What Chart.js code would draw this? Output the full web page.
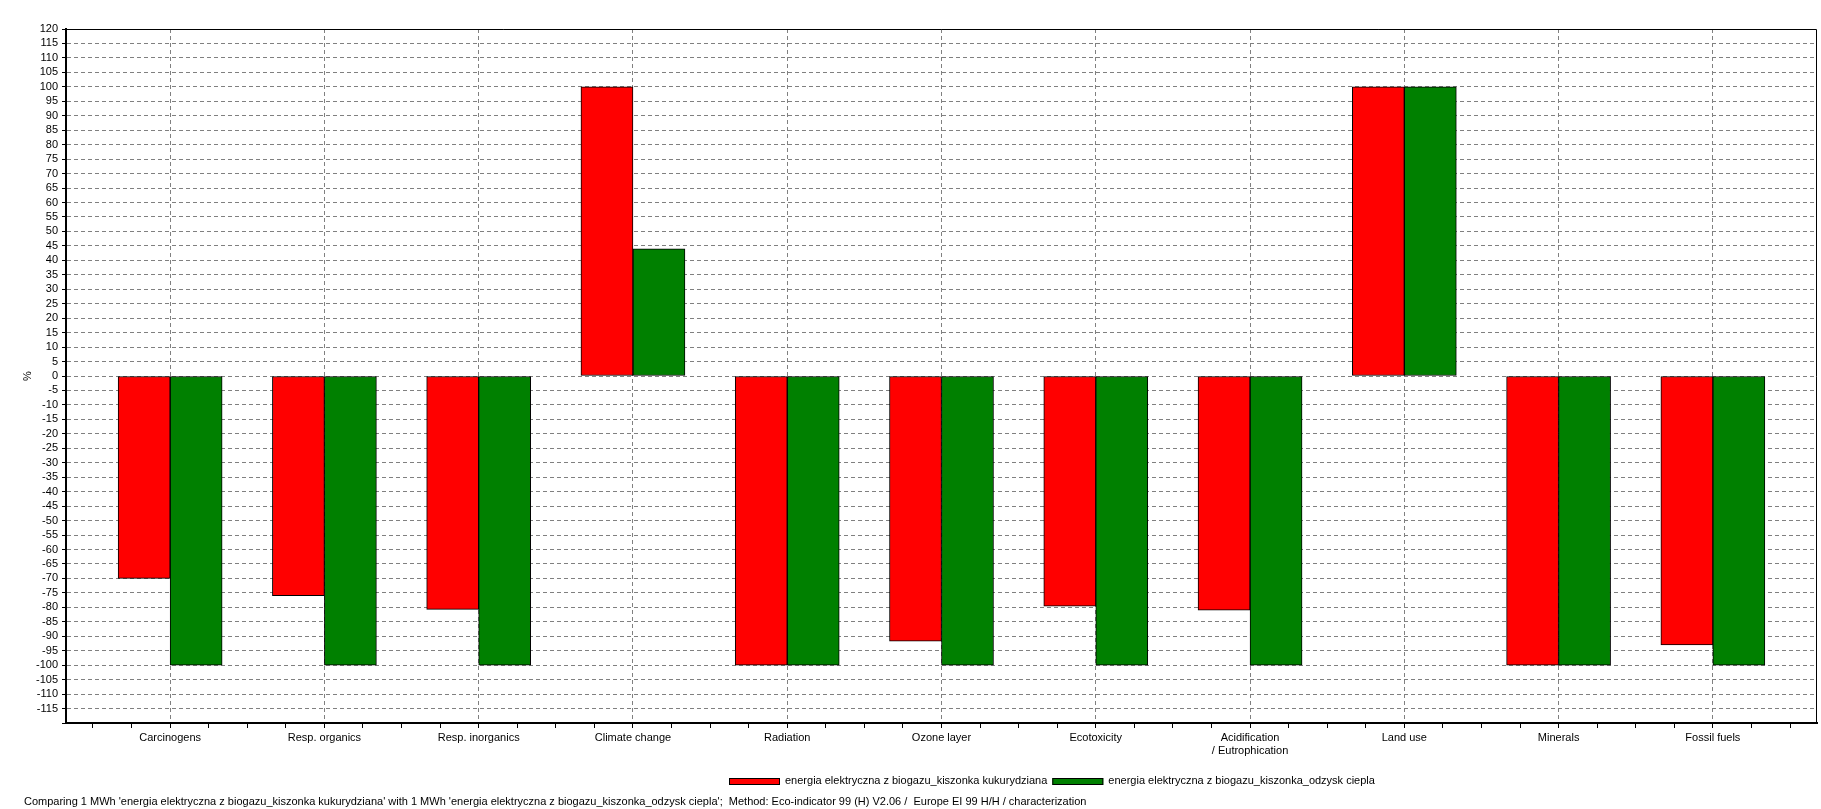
<!DOCTYPE html>
<html>
<head>
<meta charset="utf-8">
<title>Eco-indicator 99 - porównanie</title>
<script src="https://cdn.jsdelivr.net/npm/chart.js@4/dist/chart.umd.min.js"></script>
<style>
  html, body { margin: 0; padding: 0; background: #fff; }
  #wrap { width: 1821px; height: 809px; }
</style>
</head>
<body>
<div id="wrap"><canvas id="ecoChart" width="1821" height="809"></canvas></div>
<script>
// kategorie wpływu
const categories = [
  "Carcinogens", "Resp. organics", "Resp. inorganics", "Climate change",
  "Radiation", "Ozone layer", "Ecotoxicity", ["Acidification", "/ Eutrophication"],
  "Land use", "Minerals", "Fossil fuels"
];

// wartości w %
const kukurydziana = [-70, -76, -80.7, 100, -100, -91.7, -79.6, -81, 100, -100, -93];
const odzyskCiepla = [-100, -100, -100, 44, -100, -100, -100, -100, 100, -100, -100];

const seriesNames = [
  "energia elektryczna z biogazu_kiszonka kukurydziana",
  "energia elektryczna z biogazu_kiszonka_odzysk ciepla"
];

const footerText = "Comparing 1 MWh 'energia elektryczna z biogazu_kiszonka kukurydziana' with 1 MWh 'energia elektryczna z biogazu_kiszonka_odzysk ciepla';  Method: Eco-indicator 99 (H) V2.06 /  Europe EI 99 H/H / characterization";

const FONT = '"Liberation Sans", Arial, sans-serif';

// ramka, legenda i stopka
const extrasPlugin = {
  id: "extras",
  afterDraw(chart) {
    const ctx = chart.ctx;
    const a = chart.chartArea;
    ctx.save();
    ctx.strokeStyle = "#000";
    ctx.lineWidth = 1;
    ctx.setLineDash([]);
    ctx.beginPath();
    ctx.moveTo(a.left, a.top + 0.5);
    ctx.lineTo(a.right - 0.5, a.top + 0.5);
    ctx.lineTo(a.right - 0.5, a.bottom);
    ctx.stroke();

    ctx.font = "11px " + FONT;
    ctx.textBaseline = "middle";
    ctx.textAlign = "left";
    let x = 729;
    chart.data.datasets.forEach(function (ds) {
      ctx.fillStyle = ds.backgroundColor;
      ctx.fillRect(x, 778, 51, 7);
      ctx.strokeRect(x + 0.5, 778.5, 50, 6);
      x += 56;
      ctx.fillStyle = "#000";
      ctx.fillText(ds.label, x, 781);
      x += ctx.measureText(ds.label).width + 5;
    });

    ctx.fillStyle = "#000";
    ctx.fillText(footerText, 24, 802);
    ctx.restore();
  }
};

function initChart() {
  const ctx = document.getElementById("ecoChart").getContext("2d");

  const quarterTicks = [];
  for (let v = -0.5; v <= categories.length - 0.5 + 1e-9; v += 0.25) {
    quarterTicks.push(Math.round(v * 100) / 100);
  }

  new Chart(ctx, {
    type: "bar",
    data: {
      datasets: [
        {
          label: seriesNames[0],
          data: kukurydziana.map((v, i) => ({ x: i, y: v })),
          backgroundColor: "#ff0000",
          borderColor: "#000000",
          borderWidth: 1,
          borderSkipped: false,
        },
        {
          label: seriesNames[1],
          data: odzyskCiepla.map((v, i) => ({ x: i, y: v })),
          backgroundColor: "#008000",
          borderColor: "#000000",
          borderWidth: 1,
          borderSkipped: false,
        },
      ],
    },
    options: {
      responsive: false,
      animation: false,
      layout: { padding: { top: 29, right: 4, left: 0, bottom: 0 } },
      datasets: { bar: { barThickness: 52 } },
      plugins: { legend: { display: false }, tooltip: { enabled: false } },
      scales: {
        x: {
          type: "linear",
          offset: false,
          min: -0.675,
          max: categories.length - 0.325,
          afterBuildTicks: (scale) => { scale.ticks = quarterTicks.map(v => ({ value: v })); },
          afterFit: (scale) => { scale.height = 86; },
          border: { color: "#000", width: 2, dash: [4, 3] },
          grid: {
            offset: false,
            color: (c) => (c.tick && Number.isInteger(c.tick.value) ? "#808080" : "rgba(0,0,0,0)"),
            tickColor: "#000",
            tickBorderDash: [],
            tickLength: 5,
            lineWidth: 1,
          },
          ticks: {
            autoSkip: false,
            maxRotation: 0,
            minRotation: 0,
            padding: 3,
            color: "#000",
            font: { family: FONT, size: 11 },
            callback: (v) => (Number.isInteger(v) ? categories[v] : ""),
          },
        },
        y: {
          min: -120,
          max: 120,
          afterFit: (scale) => { scale.width = 66; },
          border: { color: "#000", width: 2, dash: [4, 3] },
          grid: {
            color: "#808080",
            tickColor: "#000",
            tickBorderDash: [],
            tickLength: 4,
          },
          ticks: {
            stepSize: 5,
            autoSkip: false,
            padding: 4,
            color: "#000",
            font: { family: FONT, size: 11 },
            callback: (v) => (v === -120 ? "" : v),
          },
          title: {
            display: true,
            text: "%",
            color: "#000",
            font: { family: FONT, size: 11 },
            padding: { top: 21, bottom: 0 },
          },
        },
      },
    },
    plugins: [extrasPlugin],
  });
}

document.addEventListener("DOMContentLoaded", initChart);
</script>
</body>
</html>
